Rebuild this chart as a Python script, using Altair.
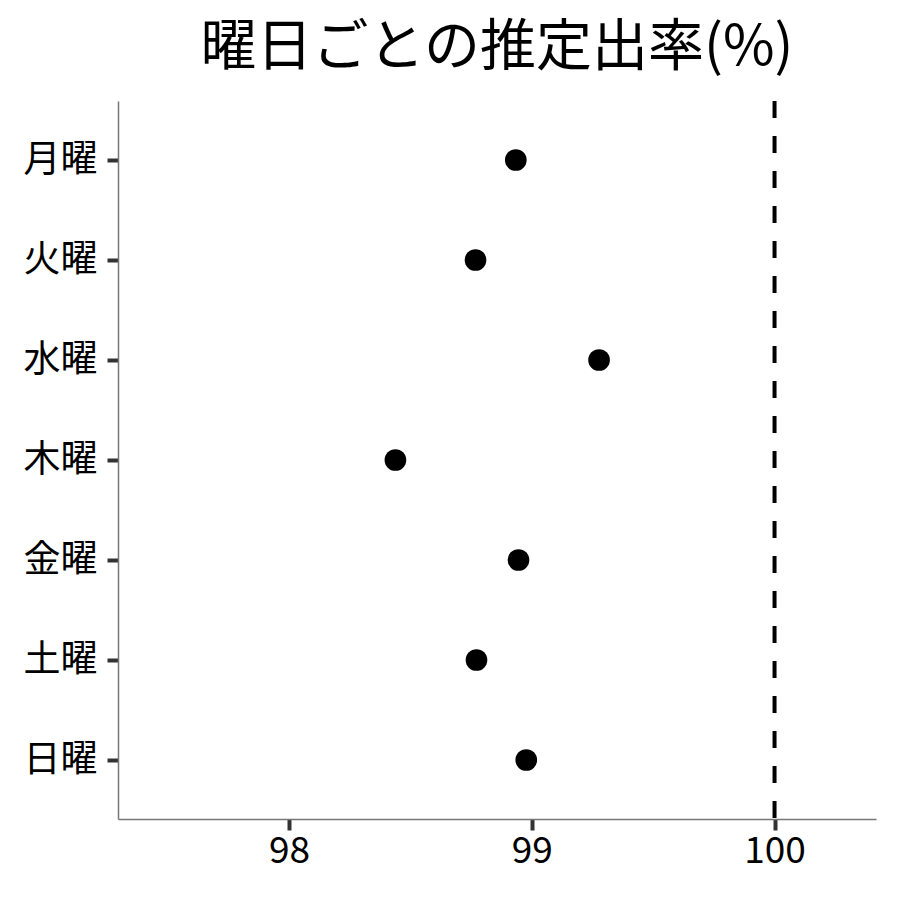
"""Estimated rate by weekday dot plot."""

import altair as alt
import pandas as pd

days = ["月曜", "火曜", "水曜", "木曜", "金曜", "土曜", "日曜"]
rates = [98.934, 98.768, 99.277, 98.438, 98.945, 98.772, 98.977]
reference_rate = [100]
x_ticks = [98, 99, 100]
x_domain = [97.295, 100.418]

FONT = "Noto Sans CJK JP"

df = pd.DataFrame({"day": days, "rate": rates})

points = (
    alt.Chart(df)
    .mark_circle(color="black", opacity=1, size=470)
    .encode(
        x=alt.X(
            "rate:Q",
            title=None,
            scale=alt.Scale(domain=x_domain, nice=False, zero=False),
            axis=alt.Axis(values=x_ticks, format="d", labelPadding=3),
        ),
        y=alt.Y(
            "day:N",
            title=None,
            sort=days,
            scale=alt.Scale(padding=0.59),
            axis=alt.Axis(labelPadding=10),
        ),
    )
)

# Dashed reference line at 100%
ref_line = (
    alt.Chart(pd.DataFrame({"x": reference_rate}))
    .mark_rule(color="black", strokeDash=[17, 18], strokeWidth=4)
    .encode(x="x:Q")
)

chart = (
    (points + ref_line)
    .properties(
        width=758,
        height=718,
        title=alt.TitleParams(
            "曜日ごとの推定出率(%)",
            fontSize=56,
            font=FONT,
            fontWeight="normal",
            color="black",
            anchor="middle",
            frame="group",
            offset=22,
        ),
        autosize=alt.AutoSizeParams(type="none"),
        padding={"left": 110, "top": 93, "right": 8, "bottom": 70},
    )
    .configure_view(stroke=None)
    .configure_axis(
        grid=False,
        labelFont=FONT,
        labelFontSize=37,
        labelColor="black",
        domainColor="#777777",
        domainWidth=1.5,
        tickColor="#333333",
        tickWidth=4,
        tickSize=11,
    )
)

chart.save("out.html", embed_options={"renderer": "svg", "actions": False})
